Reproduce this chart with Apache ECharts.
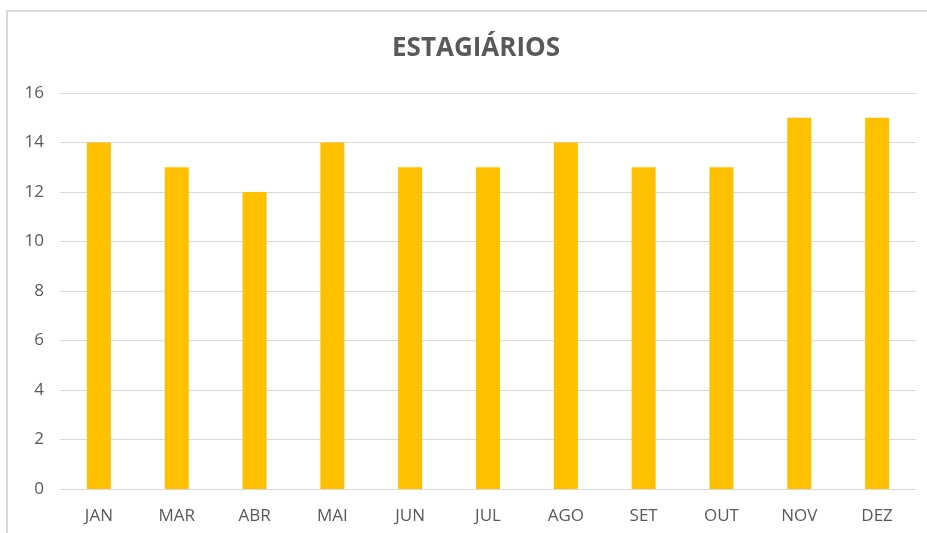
<!DOCTYPE html>
<html>
<head>
<meta charset="utf-8">
<script src="https://cdn.jsdelivr.net/npm/echarts@6/dist/echarts.min.js"></script>
<style>
  html, body { margin: 0; padding: 0; background: #fff; overflow: hidden; }
  #chart { position: absolute; left: 0; top: 0; width: 927px; height: 533px; }
  .frame {
    position: absolute; left: 6px; top: 10px; width: 940px; height: 540px;
    border-left: 2px solid #d9d9d9; border-top: 2px solid #d9d9d9;
    pointer-events: none;
  }
</style>
</head>
<body>
<div id="chart"></div>
<div class="frame"></div>
<script>
const months = ['JAN', 'MAR', 'ABR', 'MAI', 'JUN', 'JUL', 'AGO', 'SET', 'OUT', 'NOV', 'DEZ']
const estagiarios = [14, 13, 12, 14, 13, 13, 14, 13, 13, 15, 15]

const chart = echarts.init(document.getElementById('chart'))
chart.setOption({
  animation: false,
  title: {
    text: 'ESTAGIÁRIOS',
    left: 387,
    top: 31,
    textStyle: { fontFamily: 'Open Sans', fontSize: 26, fontWeight: 'bold', color: '#595959' }
  },
  grid: { left: 60, right: 11, top: 93, bottom: 44 },
  xAxis: {
    type: 'category',
    data: months,
    axisLine: { lineStyle: { color: '#d9d9d9' } },
    axisTick: { show: false },
    axisLabel: { color: '#595959', fontSize: 17, fontFamily: 'Open Sans', margin: 19 }
  },
  yAxis: {
    type: 'value',
    min: 0,
    max: 16,
    interval: 2,
    axisLine: { show: false },
    axisTick: { show: false },
    splitLine: { lineStyle: { color: '#d9d9d9' } },
    axisLabel: { color: '#595959', fontSize: 17, fontFamily: 'Open Sans', margin: 16 }
  },
  series: [{
    type: 'bar',
    data: estagiarios,
    barWidth: 24,
    itemStyle: { color: '#FFC000' }
  }]
})
</script>
</body>
</html>
